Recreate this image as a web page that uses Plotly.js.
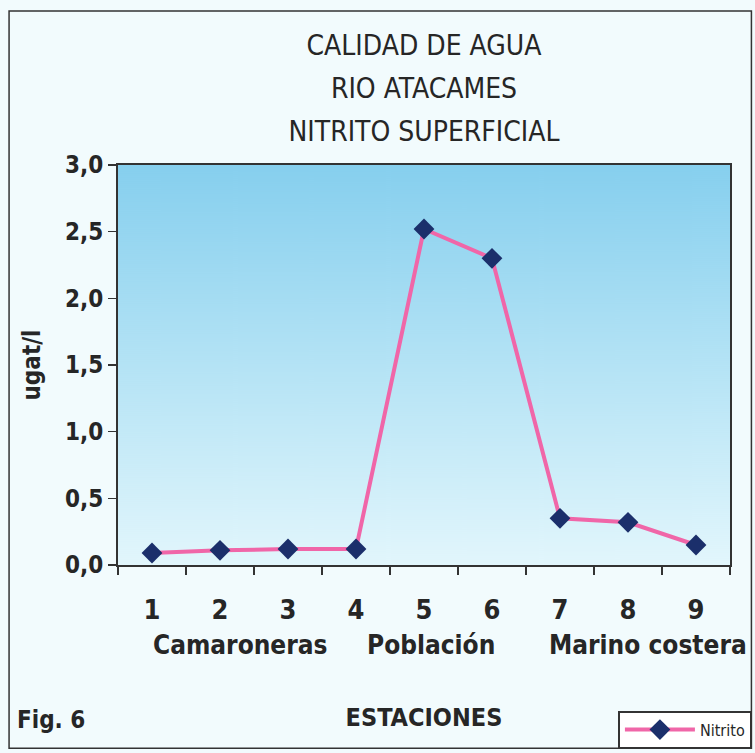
<!DOCTYPE html>
<html>
<head>
<meta charset="utf-8">
<script src="https://cdn.plot.ly/plotly-3.0.1.min.js"></script>
<style>
  html, body { margin: 0; padding: 0; background: #f2fbfd; }
  #chart { width: 755px; height: 753px; }
</style>
</head>
<body>
<div id="chart"></div>
<script>
// ---- data ----
var estaciones = ['1', '2', '3', '4', '5', '6', '7', '8', '9'];
var nitrito = [0.09, 0.11, 0.12, 0.12, 2.52, 2.30, 0.35, 0.32, 0.15];
var grupos = ['Camaroneras', 'Población', 'Marino costera'];
var yTicks = [0, 0.5, 1, 1.5, 2, 2.5, 3];
var serieNombre = 'Nitrito';
var titulo = ['CALIDAD DE AGUA', 'RIO ATACAMES', 'NITRITO SUPERFICIAL'];

// ---- gradient background for the plot area ----
var cv = document.createElement('canvas');
cv.width = 8; cv.height = 400;
var ctx = cv.getContext('2d');
var g = ctx.createLinearGradient(0, 0, 0, 400);
g.addColorStop(0, '#86cfee');
g.addColorStop(0.5, '#b4e3f5');
g.addColorStop(1, '#e2f6fc');
ctx.fillStyle = g;
ctx.fillRect(0, 0, 8, 400);
var gradURL = cv.toDataURL('image/png');

var NARROW = 'Liberation Sans Narrow, DejaVu Sans Condensed, Arial Narrow, sans-serif';
var TXT = '#262626';

var trace = {
  type: 'scatter',
  mode: 'lines+markers',
  x: estaciones,
  y: nitrito,
  name: serieNombre,
  line: { color: '#f066a8', width: 4 },
  marker: { symbol: 'diamond', size: 16, color: '#1b2f6b', line: { width: 0 } }
};

// group label positions (category index units)
var grpPos = [1.29, 4.11, 7.3];

var annotations = grupos.map(function (name, i) {
  return {
    text: name, xref: 'x', yref: 'paper', x: grpPos[i], y: -0.2,
    xanchor: 'center', yanchor: 'middle', showarrow: false, yshift: 0,
    font: { family: NARROW, size: 26, color: TXT, weight: 'bold' }
  };
});
annotations.push({
  text: 'Fig. 6', xref: 'paper', yref: 'paper', x: -0.168, y: -0.388,
  xanchor: 'left', yanchor: 'middle', showarrow: false,
  font: { family: NARROW, size: 24, color: TXT, weight: 'bold' }
});

var titleText = titulo.map(function (t) {
  return '<span style="font-size:28px">' + t + '</span>';
}).join('<br>');

var layout = {
  width: 755, height: 753,
  paper_bgcolor: '#f2fbfd',
  plot_bgcolor: 'rgba(0,0,0,0)',
  margin: { l: 118, r: 25, t: 165, b: 188, autoexpand: false },
  separators: ',.',
  title: {
    text: titleText,
    x: 0.5, xanchor: 'center', xref: 'paper',
    y: 0.927, yanchor: 'top',
    font: { family: NARROW, size: 33, color: TXT }
  },
  showlegend: true,
  legend: {
    x: 1.035, xanchor: 'right', y: -0.458, yanchor: 'bottom',
    bgcolor: '#ffffff', bordercolor: '#333333', borderwidth: 1.5,
    font: { family: NARROW, size: 16, color: TXT },
    itemwidth: 70
  },
  xaxis: {
    type: 'category',
    range: [-0.5, 8.5],
    tickson: 'boundaries',
    ticks: 'outside', ticklen: 8, tickwidth: 1.5, tickcolor: '#333',
    showline: true, linecolor: '#333', linewidth: 2, mirror: true,
    showgrid: false, zeroline: false,
    ticklabelstandoff: 20,
    tickfont: { family: NARROW, size: 27, color: TXT, weight: 'bold' },
    title: {
      text: 'ESTACIONES', standoff: 84,
      font: { family: NARROW, size: 25, color: TXT, weight: 'bold' }
    },
    fixedrange: true
  },
  yaxis: {
    range: [0, 3],
    tickvals: yTicks,
    tickformat: '.1f',
    ticks: 'outside', ticklen: 8, tickwidth: 1.5, tickcolor: '#333',
    showline: true, linecolor: '#333', linewidth: 2, mirror: true,
    showgrid: false, zeroline: false,
    tickfont: { family: NARROW, size: 24, color: TXT, weight: 'bold' },
    title: {
      text: 'ugat/l', standoff: 18,
      font: { family: NARROW, size: 24, color: TXT, weight: 'bold' }
    },
    fixedrange: true
  },
  images: [{
    source: gradURL, xref: 'paper', yref: 'paper',
    x: 0, y: 1, sizex: 1, sizey: 1, sizing: 'stretch',
    xanchor: 'left', yanchor: 'top', layer: 'below'
  }],
  shapes: [{
    type: 'rect', xref: 'paper', yref: 'paper',
    x0: -0.178, x1: 1.035, y0: -0.458, y1: 1.385,
    line: { color: '#333333', width: 1.5 }, fillcolor: 'rgba(0,0,0,0)',
    layer: 'below'
  }],
  annotations: annotations
};

Plotly.newPlot('chart', [trace], layout, { displayModeBar: false, staticPlot: true });
</script>
</body>
</html>
